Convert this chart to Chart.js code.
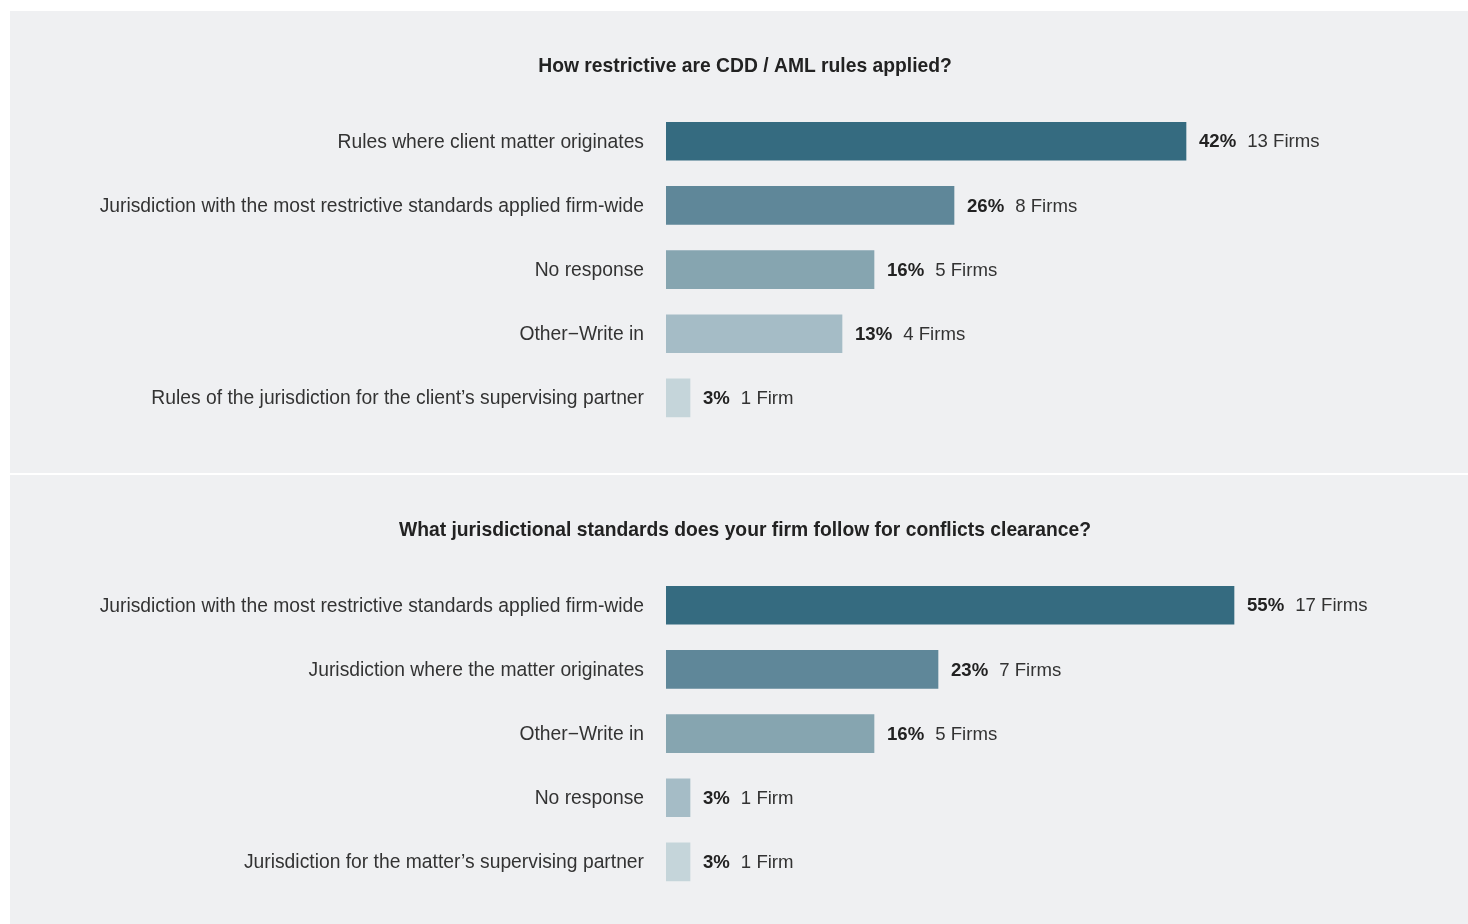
<!DOCTYPE html>
<html>
<head>
<meta charset="utf-8">
<script src="https://cdn.jsdelivr.net/npm/chart.js@4.4.1/dist/chart.umd.min.js"></script>
<style>
  html, body { margin: 0; padding: 0; background: #ffffff; width: 1468px; height: 924px; overflow: hidden; }
  .panel { position: absolute; left: 10px; width: 1458px; height: 462px; background: #eff0f2; }
  #p1 { top: 11px; }
  #p2 { top: 475px; }
</style>
</head>
<body>
<div class="panel" id="p1"><canvas id="c1"></canvas></div>
<div class="panel" id="p2"><canvas id="c2"></canvas></div>
<script>
// ---- Data ----
const title1 = "How restrictive are CDD / AML rules applied?";
const categories1 = [
  "Rules where client matter originates",
  "Jurisdiction with the most restrictive standards applied firm-wide",
  "No response",
  "Other\u2212Write in",
  "Rules of the jurisdiction for the client\u2019s supervising partner"
];
const percents1 = [42, 26, 16, 13, 3];
const firms1 = [13, 8, 5, 4, 1];
const barLengths1 = [65, 36, 26, 22, 3];   // bar extent as drawn in the reference (axis 0–100)

const title2 = "What jurisdictional standards does your firm follow for conflicts clearance?";
const categories2 = [
  "Jurisdiction with the most restrictive standards applied firm-wide",
  "Jurisdiction where the matter originates",
  "Other\u2212Write in",
  "No response",
  "Jurisdiction for the matter\u2019s supervising partner"
];
const percents2 = [55, 23, 16, 3, 3];
const firms2 = [17, 7, 5, 1, 1];
const barLengths2 = [71, 34, 26, 3, 3];

const barColors = ["#356b80", "#5f8799", "#86a5b0", "#a5bcc6", "#c5d5da"];

// ---- Rendering ----
const FONT = "'Liberation Sans', Arial, Helvetica, sans-serif";
const FS = 19.3;
const VFS = 18.6;
const TEXT = "#333333";

const valueLabels = {
  id: "valueLabels",
  afterDatasetsDraw(chart, args, opts) {
    const ctx = chart.ctx;
    const meta = chart.getDatasetMeta(0);
    ctx.save();
    ctx.textBaseline = "middle";
    ctx.textAlign = "left";
    meta.data.forEach((bar, i) => {
      const pctText = opts.percents[i] + "%";
      const firmText = opts.firms[i] + (opts.firms[i] === 1 ? " Firm" : " Firms");
      const x = bar.x + 13;
      const y = bar.y + 1;
      ctx.font = "bold " + VFS + "px " + FONT;
      ctx.fillStyle = "#222222";
      ctx.fillText(pctText, x, y);
      const w = ctx.measureText(pctText).width;
      ctx.font = VFS + "px " + FONT;
      ctx.fillStyle = TEXT;
      ctx.fillText(firmText, x + w + 11, y);
    });
    ctx.restore();
  }
};

function makeChart(id, title, cats, lengths, pcts, firms) {
  return new Chart(document.getElementById(id), {
    type: "bar",
    data: {
      labels: cats,
      datasets: [{
        data: lengths,
        backgroundColor: barColors,
        borderWidth: 0,
        barThickness: 38
      }]
    },
    options: {
      indexAxis: "y",
      responsive: true,
      maintainAspectRatio: false,
      animation: false,
      layout: { padding: { left: 14, right: 2, top: 0, bottom: 43 } },
      scales: {
        x: {
          min: 0, max: 100,
          display: false,
          grid: { display: false }
        },
        y: {
          grid: { display: false, drawTicks: false },
          border: { display: false },
          ticks: {
            color: TEXT,
            padding: 22,
            labelOffset: 1,
            font: { family: FONT, size: FS, lineHeight: 1.2 }
          },
          afterFit(scale) { scale.width = 642; }
        }
      },
      plugins: {
        legend: { display: false },
        tooltip: { enabled: false },
        title: {
          display: true,
          text: title,
          color: "#222222",
          font: { family: FONT, size: FS, weight: "bold", lineHeight: 1.2 },
          padding: { top: 44, bottom: 31 }
        },
        valueLabels: { percents: pcts, firms: firms }
      }
    },
    plugins: [valueLabels]
  });
}

makeChart("c1", title1, categories1, barLengths1, percents1, firms1);
makeChart("c2", title2, categories2, barLengths2, percents2, firms2);
</script>
</body>
</html>
